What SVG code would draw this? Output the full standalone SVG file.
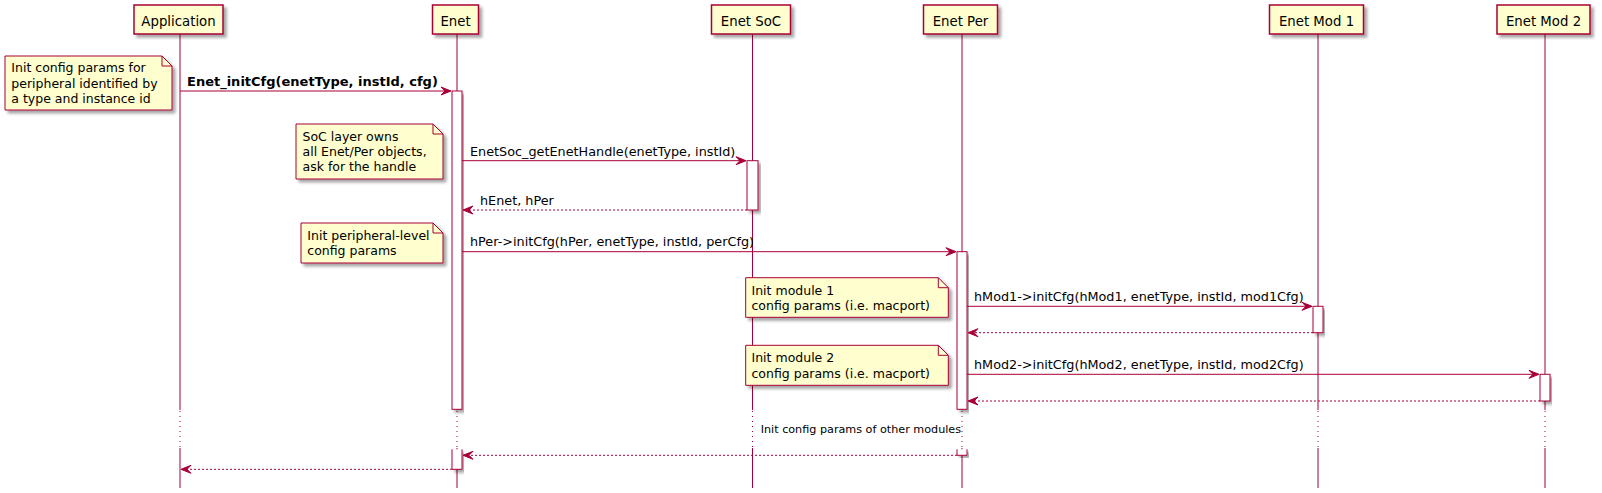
<svg xmlns="http://www.w3.org/2000/svg" width="1602" height="493" viewBox="0 0 1602 493">
<style>
.box{fill:#FEFECE;stroke:#A80036;stroke-width:1.5;filter:url(#sh)}
.note{fill:#FEFECE;stroke:#A80036;stroke-width:1;filter:url(#sh)}
.fold{fill:none;stroke:#A80036;stroke-width:1}
.act{fill:#FFFFFF;stroke:#A80036;stroke-width:1;filter:url(#sh)}
.life{stroke:#A80036;stroke-width:1;fill:none}
.dly{stroke:#A80036;stroke-width:1;stroke-dasharray:1,4;fill:none}
.msg{stroke:#A80036;stroke-width:1;fill:none}
.ret{stroke:#A80036;stroke-width:1;stroke-dasharray:2,2;fill:none}
.head{fill:#A80036;stroke:#A80036;stroke-width:1}
text{font-family:"DejaVu Sans","Liberation Sans",sans-serif;fill:#000}
.pt{font-size:13.3px;text-anchor:middle}
.mt{font-size:12.8px}
.bt{font-size:13px;font-weight:bold}
.nt{font-size:12.5px}
.dt{font-size:11.2px}
</style>
<defs>
<filter id="sh" x="-10%" y="-10%" width="130%" height="140%">
<feDropShadow dx="3" dy="3" stdDeviation="1.5" flood-color="#000" flood-opacity="0.35"/>
</filter>
</defs>
<g id="lifelines">
<path class="life" d="M180,34V410M180,448V488"/>
<path class="life" d="M457,34V410M457,448V488"/>
<path class="life" d="M752.5,34V410M752.5,448V488"/>
<path class="life" d="M962,34V410M962,448V488"/>
<path class="life" d="M1318,34V410M1318,448V488"/>
<path class="life" d="M1545,34V410M1545,448V488"/>
<path class="dly" d="M180,411V448M457,411V448M752.5,411V448M962,411V448M1318,411V448M1545,411V448"/>
</g>
<g id="p-application"><rect class="box" x="134" y="5" width="89" height="29"/><text class="pt" x="178.5" y="25.5">Application</text></g>
<g id="p-enet"><rect class="box" x="432.5" y="5" width="46" height="29"/><text class="pt" x="455.5" y="25.5">Enet</text></g>
<g id="p-enetsoc"><rect class="box" x="711.5" y="5" width="79" height="29"/><text class="pt" x="751" y="25.5">Enet SoC</text></g>
<g id="p-enetper"><rect class="box" x="923.5" y="5" width="74" height="29"/><text class="pt" x="960.5" y="25.5">Enet Per</text></g>
<g id="p-enetmod1"><rect class="box" x="1269.5" y="5" width="94" height="29"/><text class="pt" x="1316.5" y="25.5">Enet Mod 1</text></g>
<g id="p-enetmod2"><rect class="box" x="1497" y="5" width="93" height="29"/><text class="pt" x="1543.5" y="25.5">Enet Mod 2</text></g>
<g id="activations">
<rect class="act" x="452" y="91" width="10" height="318.3"/>
<path class="act" d="M452,449.3V469.3H462V449.3"/>
<rect class="act" x="747" y="160.7" width="11" height="49.3"/>
<rect class="act" x="957" y="251.7" width="10" height="157.6"/>
<path class="act" d="M957,449.3V455.3H967V449.3"/>
<rect class="act" x="1313" y="306.3" width="10" height="26.4"/>
<rect class="act" x="1540" y="374.3" width="10" height="26.7"/>
</g>
<g id="note1"><path class="note" d="M5,56H162L172,66V110H5Z"/><path class="fold" d="M162,56V66H172"/>
<text class="nt" x="11.3" y="72.3">Init config params for</text><text class="nt" x="11.3" y="87.5">peripheral identified by</text><text class="nt" x="11.3" y="102.7">a type and instance id</text></g>
<g id="note2"><path class="note" d="M296,124H433L443,134V179H296Z"/><path class="fold" d="M433,124V134H443"/>
<text class="nt" x="302.5" y="141">SoC layer owns</text><text class="nt" x="302.5" y="156">all Enet/Per objects,</text><text class="nt" x="302.5" y="171">ask for the handle</text></g>
<g id="note3"><path class="note" d="M301,223H433L443,233V263H301Z"/><path class="fold" d="M433,223V233H443"/>
<text class="nt" x="307.3" y="240">Init peripheral-level</text><text class="nt" x="307.3" y="255">config params</text></g>
<g id="note4"><path class="note" d="M745.7,277.7H938.3L948.3,287.7V317.3H745.7Z"/><path class="fold" d="M938.3,277.7V287.7H948.3"/>
<text class="nt" x="751.5" y="294.5">Init module 1</text><text class="nt" x="751.5" y="309.7">config params (i.e. macport)</text></g>
<g id="note5"><path class="note" d="M745.7,345.3H938.3L948.3,355.3V385.3H745.7Z"/><path class="fold" d="M938.3,345.3V355.3H948.3"/>
<text class="nt" x="751.5" y="362.3">Init module 2</text><text class="nt" x="751.5" y="377.5">config params (i.e. macport)</text></g>
<g id="connectors">
<path class="msg" d="M180,91H450"/><polygon class="head" points="441,87 451,91 441,95 445,91"/>
<text class="bt" x="187" y="85.5">Enet_initCfg(enetType, instId, cfg)</text>
<path class="msg" d="M462,160.7H745"/><polygon class="head" points="736,156.7 746,160.7 736,164.7 740,160.7"/>
<text class="mt" x="470" y="155.5">EnetSoc_getEnetHandle(enetType, instId)</text>
<path class="ret" d="M747,210H464"/><polygon class="head" points="473,206 463,210 473,214 469,210"/>
<text class="mt" x="480" y="204.5">hEnet, hPer</text>
<path class="msg" d="M462,251.7H955"/><polygon class="head" points="946,247.7 956,251.7 946,255.7 950,251.7"/>
<text class="mt" x="470" y="246.3">hPer-&gt;initCfg(hPer, enetType, instId, perCfg)</text>
<path class="msg" d="M967,306.3H1311"/><polygon class="head" points="1302,302.3 1312,306.3 1302,310.3 1306,306.3"/>
<text class="mt" x="974" y="301">hMod1-&gt;initCfg(hMod1, enetType, instId, mod1Cfg)</text>
<path class="ret" d="M1313,332.7H969"/><polygon class="head" points="978,328.7 968,332.7 978,336.7 974,332.7"/>
<path class="msg" d="M967,374.3H1538"/><polygon class="head" points="1529,370.3 1539,374.3 1529,378.3 1533,374.3"/>
<text class="mt" x="974" y="369">hMod2-&gt;initCfg(hMod2, enetType, instId, mod2Cfg)</text>
<path class="ret" d="M1540,401H969"/><polygon class="head" points="978,397 968,401 978,405 974,401"/>
<path class="ret" d="M957,455.3H464"/><polygon class="head" points="473,451.3 463,455.3 473,459.3 469,455.3"/>
<path class="ret" d="M452,469.3H182"/><polygon class="head" points="191,465.3 181,469.3 191,473.3 187,469.3"/>
</g>
<text class="dt" x="760.7" y="433">Init config params of other modules</text>
</svg>
